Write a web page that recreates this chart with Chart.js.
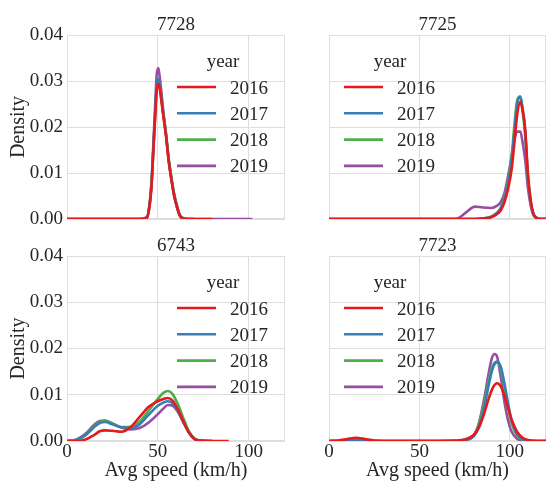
<!DOCTYPE html>
<html>
<head>
<meta charset="utf-8">
<script src="https://cdn.jsdelivr.net/npm/chart.js@4.4.0/dist/chart.umd.min.js"></script>
<style>
  html, body { margin: 0; padding: 0; background: #fff; }
  #wrap { position: relative; width: 546px; height: 481px; overflow: hidden; }
  #wrap canvas { position: absolute; left: 0; top: 0; }
</style>
</head>
<body>
<div id="wrap">
  <canvas id="c7728" width="546" height="481"></canvas>
  <canvas id="c7725" width="546" height="481"></canvas>
  <canvas id="c6743" width="546" height="481"></canvas>
  <canvas id="c7723" width="546" height="481"></canvas>
</div>
<script>
const years = ['2016', '2017', '2018', '2019'];
const yearColors = ['#e41a1c', '#377eb8', '#4daf4a', '#984ea3'];
const xTicks = [0, 50, 100];
const yTicks = [0, 0.01, 0.02, 0.03, 0.04];

// station 7728
const speeds7728 = [0, 40, 44, 45.5, 46.5, 47.5, 48.5, 49.4, 50.3, 51, 52, 53, 54.5, 56, 57.5, 59, 60.5, 62, 63.5, 66, 70, 80, 102];
const dens7728_2016 = [0, 0, 0.0003, 0.003, 0.007, 0.0145, 0.022, 0.028, 0.0294, 0.0285, 0.0255, 0.0225, 0.018, 0.0125, 0.0085, 0.005, 0.0027, 0.0008, 0.0002, 0, 0, 0, null];
const dens7728_2017 = [0, 0, 0.0003, 0.0032, 0.0075, 0.015, 0.0228, 0.029, 0.0305, 0.0293, 0.0262, 0.0228, 0.0183, 0.0128, 0.0087, 0.0052, 0.0028, 0.0009, 0.0002, 0, 0, null, null];
const dens7728_2018 = [0, 0, 0.0003, 0.003, 0.0072, 0.0148, 0.0225, 0.0286, 0.03, 0.029, 0.026, 0.0228, 0.0185, 0.013, 0.009, 0.0055, 0.003, 0.001, 0.0003, 0, 0, null, null];
const dens7728_2019 = [0, 0, 0.0004, 0.0035, 0.008, 0.016, 0.0245, 0.0315, 0.0328, 0.031, 0.0275, 0.0235, 0.0185, 0.0128, 0.0085, 0.005, 0.0026, 0.0008, 0.0002, 0, 0, 0, 0];

// station 7725
const speeds7725 = [0, 70, 72, 76, 80.7, 85, 89.7, 93, 95, 97, 99, 101, 102.5, 104, 105.8, 107, 108.5, 110, 111.5, 113, 115, 117, 120];
const dens7725_2016 = [0, 0, 0, 0, 0, 0.0001, 0.0004, 0.0011, 0.0019, 0.0036, 0.0066, 0.0108, 0.0165, 0.0225, 0.0255, 0.0238, 0.0195, 0.0098, 0.0042, 0.0012, 0.0002, 0, 0];
const dens7725_2017 = [0, 0, 0, 0, 0, 0.0001, 0.0005, 0.0013, 0.0023, 0.0043, 0.0078, 0.0127, 0.019, 0.0248, 0.0266, 0.0243, 0.019, 0.0093, 0.0038, 0.0011, 0.0002, 0, 0];
const dens7725_2018 = [0, 0, 0, 0, 0, 0.0001, 0.0005, 0.0014, 0.0025, 0.0046, 0.0084, 0.0136, 0.0202, 0.0257, 0.0266, 0.0236, 0.0182, 0.009, 0.0037, 0.001, 0.0002, 0, 0];
const dens7725_2019 = [0, 0, 0.0003, 0.0015, 0.0027, 0.0025, 0.0024, 0.0029, 0.0037, 0.0056, 0.0093, 0.0137, 0.0172, 0.019, 0.019, 0.0168, 0.0128, 0.0068, 0.003, 0.0009, 0.0002, 0, 0];

// station 6743
const speeds6743 = [0, 5, 10, 15, 18, 21, 25, 30, 35, 40, 45, 50, 53, 55.5, 58, 61, 64, 67, 70, 73, 80, 89];
const dens6743_2016 = [0, 0, 0.0003, 0.0013, 0.0021, 0.0023, 0.0022, 0.002, 0.003, 0.0052, 0.0074, 0.0086, 0.0091, 0.0093, 0.0088, 0.0069, 0.0043, 0.0019, 0.0005, 0.0001, 0, 0];
const dens6743_2017 = [0, 0.0002, 0.0012, 0.003, 0.0039, 0.0041, 0.0036, 0.0029, 0.0028, 0.0036, 0.0057, 0.0076, 0.0083, 0.0086, 0.0082, 0.0065, 0.0041, 0.0019, 0.0005, 0.0001, 0, null];
const dens6743_2018 = [0, 0.0002, 0.0012, 0.0032, 0.0041, 0.0043, 0.0038, 0.003, 0.0031, 0.0042, 0.0066, 0.0091, 0.0104, 0.0108, 0.0102, 0.008, 0.005, 0.0022, 0.0006, 0.0001, 0, null];
const dens6743_2019 = [0, 0.0003, 0.0015, 0.0035, 0.0043, 0.0044, 0.0038, 0.0029, 0.0025, 0.0028, 0.004, 0.0058, 0.007, 0.0078, 0.0077, 0.0063, 0.0041, 0.0019, 0.0005, 0.0001, 0, null];

// station 7723
const speeds7723 = [0, 5, 10, 15, 20, 25, 30, 40, 50, 60, 70, 75, 80, 83, 86, 88, 90, 91.5, 93, 95, 97, 99, 101, 104, 107, 110, 115, 120];
const dens7723_2016 = [0, 0.0001, 0.0004, 0.0007, 0.0004, 0.0001, 0, 0, 0, 0, 0.0001, 0.0003, 0.0013, 0.003, 0.0062, 0.0088, 0.011, 0.0121, 0.0125, 0.0118, 0.0098, 0.0072, 0.0046, 0.002, 0.0007, 0.0002, 0, 0];
const dens7723_2017 = [0, 0, 0.0001, 0.0003, 0.0001, 0, 0, 0, 0, 0, 0, 0.0002, 0.001, 0.0032, 0.0075, 0.0115, 0.015, 0.0166, 0.0171, 0.016, 0.0125, 0.0082, 0.0045, 0.0015, 0.0004, 0.0001, 0, 0];
const dens7723_2018 = [0, 0, 0.0001, 0.0002, 0.0001, 0, 0, 0, 0, 0, 0, 0.0002, 0.0012, 0.0038, 0.0085, 0.0125, 0.0157, 0.0169, 0.0171, 0.0155, 0.0115, 0.0072, 0.0038, 0.0012, 0.0003, 0.0001, 0, 0];
const dens7723_2019 = [0, 0, 0.0001, 0.0002, 0.0001, 0, 0, 0, 0, 0, 0, 0.0002, 0.0012, 0.004, 0.0095, 0.014, 0.0178, 0.0188, 0.0182, 0.0138, 0.0085, 0.0045, 0.002, 0.0005, 0.0001, 0, 0, 0];

const FONT = '"Liberation Serif", "Times New Roman", serif';
const TEXT = '#262626';
const GRID = '#dedede';

const panels = [
  { id: 'c7728', title: '7728', x: speeds7728, ys: [dens7728_2016, dens7728_2017, dens7728_2018, dens7728_2019],
    area: { left: 67, top: 35, right: 285, bottom: 219 }, yLabels: true, xLabels: false, legendX: 177 },
  { id: 'c7725', title: '7725', x: speeds7725, ys: [dens7725_2016, dens7725_2017, dens7725_2018, dens7725_2019],
    area: { left: 329, top: 35, right: 546, bottom: 219 }, yLabels: false, xLabels: false, legendX: 344 },
  { id: 'c6743', title: '6743', x: speeds6743, ys: [dens6743_2016, dens6743_2017, dens6743_2018, dens6743_2019],
    area: { left: 67, top: 256, right: 285, bottom: 441 }, yLabels: true, xLabels: true, legendX: 177 },
  { id: 'c7723', title: '7723', x: speeds7723, ys: [dens7723_2016, dens7723_2017, dens7723_2018, dens7723_2019],
    area: { left: 329, top: 256, right: 546, bottom: 441 }, yLabels: false, xLabels: true, legendX: 344 },
];

// frame around the plotting area
const frame = {
  id: 'frame',
  beforeDatasetsDraw(chart) {
    const a = chart.chartArea;
    const ctx = chart.ctx;
    ctx.save();
    ctx.strokeStyle = GRID;
    ctx.lineWidth = 1;
    ctx.strokeRect(a.left + 0.5, a.top + 0.5, a.right - a.left - 1, a.bottom - a.top - 1);
    ctx.restore();
  }
};

// panel title + "year" legend drawn inside the axes
const panelText = {
  id: 'panelText',
  afterDraw(chart, args, opts) {
    const a = chart.chartArea;
    const ctx = chart.ctx;
    ctx.save();
    ctx.fillStyle = TEXT;
    ctx.font = '19px ' + FONT;
    ctx.textBaseline = 'alphabetic';
    ctx.textAlign = 'center';
    ctx.fillText(opts.title, (a.left + a.right) / 2, a.top - 5);

    const lx = opts.legendX;
    ctx.fillText('year', lx + 46, a.top + 32);
    chart.data.datasets.forEach((ds, i) => {
      const y = a.top + 52 + i * 26.3;
      ctx.strokeStyle = ds.borderColor;
      ctx.lineWidth = 2.6;
      ctx.beginPath();
      ctx.moveTo(lx, y);
      ctx.lineTo(lx + 39, y);
      ctx.stroke();
      ctx.textAlign = 'left';
      ctx.fillText(ds.label, lx + 53, y + 6.5);
    });
    ctx.restore();
  }
};

panels.forEach(p => {
  const datasets = years.map((yr, i) => ({
    label: yr,
    data: p.x.map((x, j) => ({ x: x, y: p.ys[i][j] })),
    borderColor: yearColors[i],
    borderWidth: 2.6,
    pointRadius: 0,
    fill: false,
    cubicInterpolationMode: 'monotone',
    spanGaps: false,
  }));

  new Chart(document.getElementById(p.id), {
    type: 'line',
    data: { datasets: datasets },
    plugins: [frame, panelText],
    options: {
      responsive: false,
      animation: false,
      events: [],
      layout: {
        padding: {
          left: p.yLabels ? 0 : p.area.left,
          top: p.area.top,
          right: 546 - p.area.right,
          bottom: p.xLabels ? 0 : 481 - p.area.bottom,
        },
      },
      plugins: {
        legend: { display: false },
        tooltip: { enabled: false },
        panelText: { title: p.title, legendX: p.legendX },
      },
      scales: {
        x: {
          type: 'linear',
          min: 0,
          max: 120,
          afterBuildTicks: s => { s.ticks = xTicks.map(v => ({ value: v })); },
          afterFit: s => { s.height = p.xLabels ? 40 : 0; },
          grid: { color: GRID, lineWidth: 1, drawTicks: false },
          border: { display: false },
          ticks: { display: p.xLabels, padding: 0, maxRotation: 0, color: TEXT, font: { family: FONT, size: 19 } },
          title: { display: p.xLabels, text: 'Avg speed (km/h)', color: TEXT, font: { family: FONT, size: 20 }, padding: { top: 0, bottom: -2 } },
        },
        y: {
          min: 0,
          max: 0.04,
          afterBuildTicks: s => { s.ticks = yTicks.map(v => ({ value: v })); },
          afterFit: s => { s.width = p.yLabels ? 67 : 0; },
          grid: { color: GRID, lineWidth: 1, drawTicks: false },
          border: { display: false },
          ticks: { display: p.yLabels, padding: 4, color: TEXT, font: { family: FONT, size: 19 }, callback: v => v.toFixed(2) },
          title: { display: p.yLabels, text: 'Density', color: TEXT, font: { family: FONT, size: 20 }, padding: { top: 7, bottom: 0 } },
        },
      },
    },
  });
});
</script>
</body>
</html>
